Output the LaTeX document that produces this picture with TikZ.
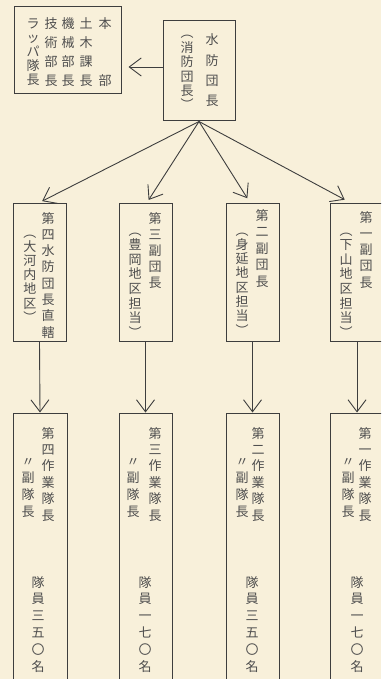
\documentclass[tikz,border=0pt]{standalone}
\usepackage{fontspec}
\usetikzlibrary{arrows.meta}
\newfontfamily\cjk{Noto Sans CJK JP}
\definecolor{bgc}{HTML}{F8F0DA}
\definecolor{linec}{HTML}{3E3E3E}
\definecolor{txtc}{HTML}{4E4E4E}
\makeatletter
\newcommand\vcol[2]{\vtop{\baselineskip=#1pt\lineskip=0pt\lineskiplimit=-\maxdimen
  \@tfor\vc@c:=#2\do{\hbox to 0pt{\hss\vc@c\hss}}}}
\makeatother
\tikzset{
  box/.style={draw=linec, line width=1pt, rectangle, inner sep=0pt, minimum width=53pt},
  vt/.style={anchor=base, inner sep=0pt, text=txtc, font=\cjk\fontsize{13}{15}\selectfont},
  arr/.style={draw=linec, line width=0.9pt, -{Straight Barb[length=12pt,width=18pt,line width=0.9pt]}}
}
\begin{document}
\begin{tikzpicture}[x=1pt,y=-1pt]
\useasboundingbox (0,0) rectangle (381,679);
\fill[bgc] (0,0) rectangle (381,679);
\clip (0,0) rectangle (381,679);

% boxes
\node[box, minimum width=107pt, minimum height=87pt] (A) at (67.5,50.5) {};
\node[box, minimum width=72pt, minimum height=100pt] (B) at (199,71) {};
\node[box, minimum height=138pt] (r1) at (39.5,272) {};
\node[box, minimum height=138pt] (r2) at (145.5,272) {};
\node[box, minimum height=138pt] (r3) at (252.5,272) {};
\node[box, minimum width=54pt, minimum height=138pt] (r4) at (357,272) {};
\node[box, minimum width=54pt, minimum height=282pt] (s1) at (40,554) {};
\node[box, minimum height=282pt] (s2) at (145.5,554) {};
\node[box, minimum height=282pt] (s3) at (252.5,554) {};
\node[box, minimum width=54pt, minimum height=282pt] (s4) at (357,554) {};

% texts, box A
\node[vt] (ta1) at (105,29) {\vcol{18.7}{本{}{}部}};
\node[vt] (ta2) at (86,29) {\vcol{18.7}{土木課長}};
\node[vt] (ta3) at (68,29) {\vcol{18.7}{機械部長}};
\node[vt] (ta4) at (51,29) {\vcol{18.7}{技術部長}};
\node[vt] (ta5) at (33,29) {\vcol{14}{ラッパ隊長}};
% box B
\node[vt] (tb1) at (212,45) {\vcol{20.3}{水防団長}};
\node[vt] (tb2) at (187,38) {\vcol{14.4}{︵消防団長︶}};
% row 2
\node[vt] (t1a) at (48,223) {\vcol{16.3}{第四水防団長直轄}};
\node[vt] (t1b) at (30,237) {\vcol{14.2}{︵大河内地区︶}};
\node[vt] (t2a) at (155,223) {\vcol{16}{第三副団長}};
\node[vt] (t2b) at (135,235) {\vcol{14.6}{︵豊岡地区担当︶}};
\node[vt] (t3a) at (262,220) {\vcol{16.5}{第二副団長}};
\node[vt] (t3b) at (242,235) {\vcol{14.3}{︵身延地区担当︶}};
\node[vt] (t4a) at (366,222) {\vcol{16.3}{第一副団長}};
\node[vt] (t4b) at (346,235) {\vcol{14.6}{︵下山地区担当︶}};
% row 3
\node[vt] (u1a) at (48,438) {\vcol{16.4}{第四作業隊長}};
\node[vt] (u1b) at (28,466) {\vcol{16.9}{〃副隊長}};
\node[vt] (u1c) at (38,587) {\vcol{16.8}{隊員三五〇名}};
\node[vt] (u2a) at (155,438) {\vcol{16.4}{第三作業隊長}};
\node[vt] (u2b) at (133,466) {\vcol{16.9}{〃副隊長}};
\node[vt] (u2c) at (145,587) {\vcol{16.8}{隊員一七〇名}};
\node[vt] (u3a) at (258,438) {\vcol{16.4}{第二作業隊長}};
\node[vt] (u3b) at (242,466) {\vcol{16.9}{〃副隊長}};
\node[vt] (u3c) at (252,587) {\vcol{16.8}{隊員三五〇名}};
\node[vt] (u4a) at (365,438) {\vcol{16.4}{第一作業隊長}};
\node[vt] (u4b) at (348,466) {\vcol{16.9}{〃副隊長}};
\node[vt] (u4c) at (357,587) {\vcol{16.8}{隊員一七〇名}};

% connectors
\draw[arr, shorten >=7pt] ([yshift=4pt]B.west) -- ([yshift=4pt]B.west -| A.east);
\draw[arr, shorten >=3pt] (B.south) -- (r1.north);
\draw[arr, shorten >=3pt] (B.south) -- ([xshift=1.5pt]r2.north);
\draw[arr, shorten >=5pt] (B.south) -- ([xshift=-2.5pt]r3.north);
\draw[arr, shorten >=6pt] (B.south) -- ([xshift=-7pt]r4.north);
\draw[arr] (r1.south) -- (s1.north);
\draw[arr] (r2.south) -- (s2.north);
\draw[arr] (r3.south) -- (s3.north);
\draw[arr] (r4.south) -- (s4.north);
\end{tikzpicture}
\end{document}
